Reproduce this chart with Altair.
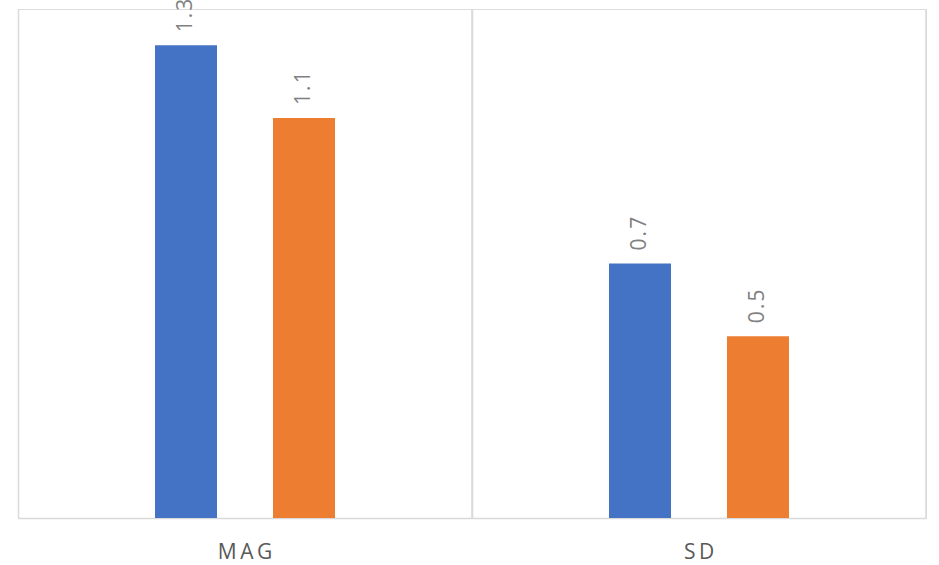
import altair as alt
import pandas as pd

categories = ["MAG", "MAG", "SD", "SD"]
series = ["A", "B", "A", "B"]
values = [1.3, 1.1, 0.7, 0.5]
cat_order = ["MAG", "SD"]
series_order = ["A", "B"]
offset_domain = ["_pad_left", "A", "B", "_pad_right"]
colors = ["#4472C4", "#ED7D31"]

df = pd.DataFrame({"cat": categories, "series": series, "value": values})

W, H = 908, 509

x_enc = alt.X(
    "cat:N",
    sort=cat_order,
    scale=alt.Scale(paddingInner=0, paddingOuter=0),
    axis=alt.Axis(
        title=None,
        labelAngle=0,
        labelAlign="center",
        ticks=False,
        grid=True,
        bandPosition=0,
        gridColor="#d9d9d9",
        gridWidth=1.5,
        domainColor="#d9d9d9",
        domainWidth=1.5,
        labelFont="Open Sans",
        labelFontSize=21,
        labelColor="#595959",
        labelPadding=34,
        labelExpr="join(split(datum.label, ''), '\u2009')",
    ),
)
xoff = alt.XOffset(
    "series:N",
    scale=alt.Scale(domain=offset_domain, paddingInner=0.4746, paddingOuter=0.161),
)
y_enc = alt.Y(
    "value:Q",
    scale=alt.Scale(domain=[0, 1.4], nice=False),
    axis=None,
)

base = alt.Chart(df)

bars = base.mark_bar().encode(
    x=x_enc,
    xOffset=xoff,
    y=y_enc,
    color=alt.Color("series:N", sort=series_order,
                    scale=alt.Scale(domain=series_order, range=colors), legend=None),
)

labels = base.transform_calculate(
    lbl="join(split(format(datum.value, '.1f'), ''), '\u200a')"
).mark_text(
    angle=270, align="left", baseline="middle", dx=13,
    font="Open Sans", fontSize=21, color="#808080",
).encode(
    x=alt.X("cat:N", sort=cat_order),
    xOffset=alt.XOffset("series:N"),
    y=alt.Y("value:Q"),
    text=alt.Text("lbl:N"),
)

right_edge = alt.Chart(pd.DataFrame({"cat": cat_order})).mark_rule(
    color="#d9d9d9", strokeWidth=1.5
).encode(
    x=alt.X("cat:N", sort=cat_order, bandPosition=1),
    y=alt.value(0),
    y2=alt.value(H),
)

chart = alt.layer(right_edge, bars, labels).properties(
    width=W, height=H,
    autosize=alt.AutoSizeParams(type="none"),
    padding={"left": 18, "top": 9, "right": 13, "bottom": 47},
).configure_view(stroke=None).configure(background="white")

chart.save("out.html", embed_options={"renderer": "svg", "actions": False})
